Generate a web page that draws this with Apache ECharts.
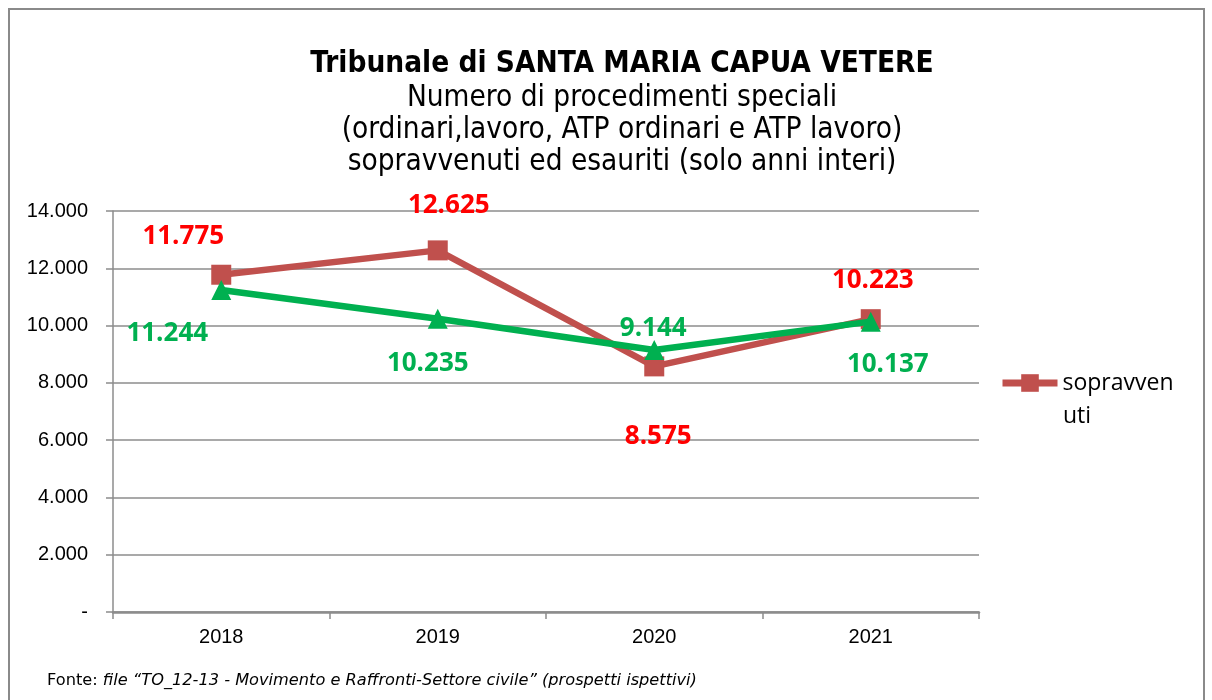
<!DOCTYPE html>
<html>
<head>
<meta charset="utf-8">
<script src="https://cdn.jsdelivr.net/npm/echarts@6/dist/echarts.min.js"></script>
<style>
  html, body { margin: 0; padding: 0; background: #fff; }
  #chart { width: 1212px; height: 700px; }
</style>
</head>
<body>
<div id="chart"></div>
<script>
// dati
var anni = ['2018', '2019', '2020', '2021'];
var sopravvenuti = [11775, 12625, 8575, 10223];
var esauriti = [11244, 10235, 9144, 10137];
var yMax = 14000;
var yStep = 2000;

// spostamento delle etichette rispetto al punto (px)
var offsetSopr = [[-38, -38], [11, -45], [4, 70], [2, -39]];
var offsetEsau = [[-54, 44], [-10, 45], [-1, -21], [17, 43]];

function fmt(v) {
    if (v === 0) return '-';
    return String(v).replace(/\B(?=(\d{3})+(?!\d))/g, '.');
}

function buildData(values, offsets) {
    return values.map(function (v, i) {
        return { value: v, label: { offset: offsets[i] } };
    });
}

var dom = document.getElementById('chart');
var myChart = echarts.init(dom, null, { renderer: 'canvas' });

var grigio = '#8c8c8c';

var option = {
    animation: false,
    title: {
        text: 'Tribunale di SANTA MARIA CAPUA VETERE',
        subtext: 'Numero di procedimenti speciali\n(ordinari,lavoro, ATP ordinari e ATP lavoro)\nsopravvenuti ed esauriti (solo anni interi)',
        left: 617,
        textAlign: 'center',
        top: 44,
        itemGap: 3,
        textStyle: {
            fontFamily: 'DejaVu Sans Condensed',
            fontWeight: 'bold',
            fontSize: 29.5,
            color: '#000'
        },
        subtextStyle: {
            fontFamily: 'DejaVu Sans Condensed',
            fontSize: 29.5,
            lineHeight: 32,
            color: '#000'
        }
    },
    legend: {
        data: ['sopravvenuti'],
        left: 994,
        top: 363,
        itemWidth: 55,
        itemHeight: 22,
        formatter: function () { return 'sopravven'; },
        lineStyle: { width: 7 },
        textStyle: {
            fontFamily: 'Open Sans',
            fontSize: 23,
            lineHeight: 30,
            color: '#000'
        }
    },
    graphic: [
        {
            type: 'rect',
            shape: { x: 9, y: 9, width: 1195, height: 720 },
            style: { fill: 'none', stroke: '#8a8a8a', lineWidth: 2 },
            silent: true
        },
        {
            type: 'text',
            left: 1063,
            top: 401,
            style: {
                text: 'uti',
                fontFamily: 'Open Sans',
                fontSize: 23,
                lineHeight: 30,
                fill: '#000'
            }
        },
        {
            type: 'text',
            left: 47,
            top: 673,
            style: {
                text: '{n|Fonte: }{i|file \u201cTO_12-13 - Movimento e Raffronti-Settore civile\u201d (prospetti ispettivi)}',
                rich: {
                    n: { fontFamily: 'DejaVu Sans', fontSize: 16.2, fill: '#000' },
                    i: { fontFamily: 'DejaVu Sans', fontStyle: 'italic', fontSize: 16.2, fill: '#000' }
                }
            }
        }
    ],
    grid: {
        left: 113,
        right: 233,
        top: 211,
        bottom: 88
    },
    xAxis: {
        type: 'category',
        data: anni,
        boundaryGap: true,
        axisLine: { lineStyle: { color: grigio, width: 2.5 } },
        axisTick: { show: true, length: 7, lineStyle: { color: grigio, width: 1.5 } },
        axisLabel: {
            margin: 15,
            fontFamily: 'Liberation Sans',
            fontSize: 20,
            color: '#000'
        }
    },
    yAxis: {
        type: 'value',
        min: 0,
        max: yMax,
        interval: yStep,
        axisLine: { show: true, lineStyle: { color: grigio, width: 1.5 } },
        axisTick: { show: true, length: 7, lineStyle: { color: grigio, width: 1.5 } },
        splitLine: { lineStyle: { color: grigio, width: 1.5 } },
        axisLabel: {
            margin: 25,
            fontFamily: 'Liberation Sans',
            fontSize: 20,
            color: '#000',
            formatter: fmt
        }
    },
    series: [
        {
            name: 'sopravvenuti',
            type: 'line',
            data: buildData(sopravvenuti, offsetSopr),
            symbol: 'rect',
            symbolSize: 20,
            lineStyle: { color: '#C0504D', width: 6.5 },
            itemStyle: { color: '#C0504D' },
            label: {
                show: true,
                position: 'inside',
                align: 'center',
                verticalAlign: 'middle',
                fontFamily: 'Open Sans',
                fontWeight: 'bold',
                fontSize: 26,
                color: '#FF0000',
                formatter: function (p) { return fmt(p.value); }
            },
            z: 2
        },
        {
            name: 'esauriti',
            type: 'line',
            data: buildData(esauriti, offsetEsau),
            symbol: 'triangle',
            symbolSize: 20,
            lineStyle: { color: '#00B050', width: 6.5 },
            itemStyle: { color: '#00B050' },
            label: {
                show: true,
                position: 'inside',
                align: 'center',
                verticalAlign: 'middle',
                fontFamily: 'Open Sans',
                fontWeight: 'bold',
                fontSize: 26,
                color: '#00B050',
                formatter: function (p) { return fmt(p.value); }
            },
            z: 3
        }
    ]
};

myChart.setOption(option);
</script>
</body>
</html>
